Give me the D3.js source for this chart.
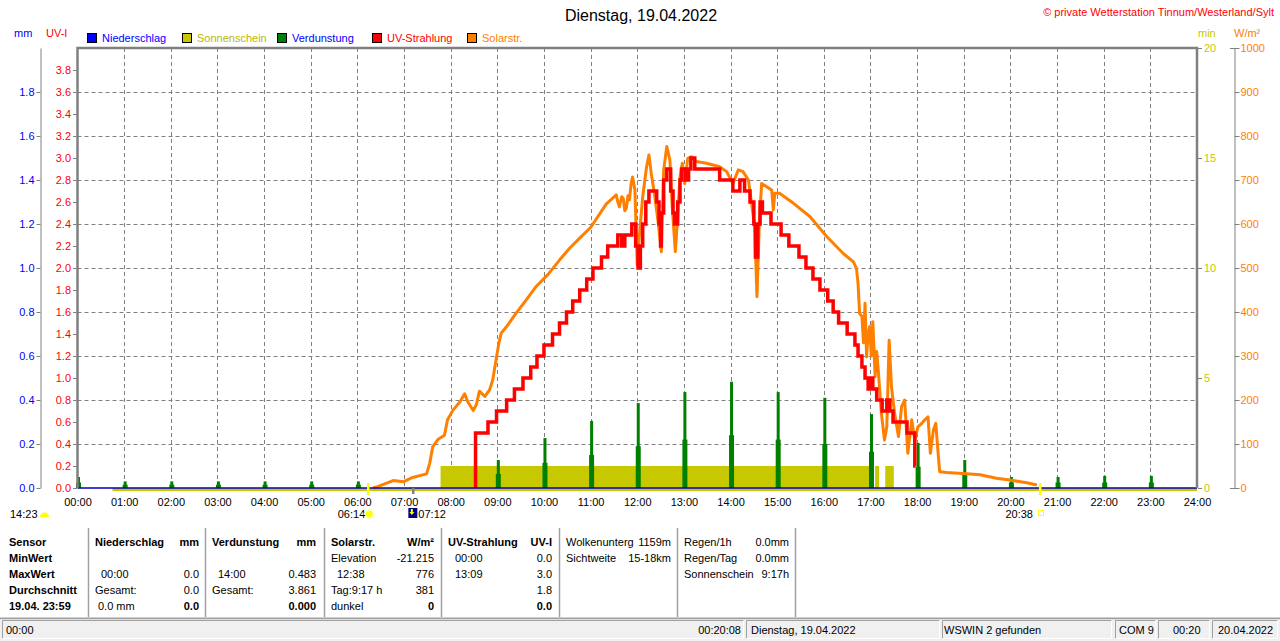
<!DOCTYPE html>
<html>
<head>
<meta charset="utf-8">
<script src="https://cdn.jsdelivr.net/npm/d3@7"></script>
<style>
  body { margin: 0; background: #fff; }
  svg text { font-family: "Liberation Sans", Arial, sans-serif; font-size: 11px; }
</style>
</head>
<body>
<svg id="chart" width="1280" height="641"></svg>
<script>
// ---- data ----
var hourLabels = ["00:00","01:00","02:00","03:00","04:00","05:00","06:00","07:00","08:00","09:00","10:00","11:00","12:00",
  "13:00","14:00","15:00","16:00","17:00","18:00","19:00","20:00","21:00","22:00","23:00","24:00"]

var mmTicks = [0.0,0.2,0.4,0.6,0.8,1.0,1.2,1.4,1.6,1.8]
var uvTicks = [0.0,0.2,0.4,0.6,0.8,1.0,1.2,1.4,1.6,1.8,2.0,2.2,2.4,2.6,2.8,3.0,3.2,3.4,3.6,3.8]
var minTicks = [0,5,10,15,20]
var wTicks = [0,100,200,300,400,500,600,700,800,900,1000]

// UV-Strahlung (UV-I), step values
var uvTimes = ["08:32","08:32","08:48","08:59","09:12","09:22","09:33","09:43","09:51","10:00","10:11","10:20","10:29","10:37",
  "10:46","10:55","11:03","11:14","11:22","11:35","11:40","11:44","11:53","11:58","12:01","12:04","12:07","12:11","12:15",
  "12:25","12:28","12:30","12:31","12:34","12:38","12:43","12:46","12:48","12:52","12:55","12:57","13:02","13:06","13:09",
  "13:14","13:46","14:03","14:12","14:18","14:25","14:30","14:32","14:35","14:38","14:41","14:52","15:05","15:15","15:28",
  "15:37","15:46","15:55","16:05","16:12","16:19","16:30","16:40","16:44","16:49","16:53","16:57","16:59","17:03","17:08",
  "17:15","17:21","17:25","17:29","17:47","17:57","17:58"]
var uvValues = [0.0,0.5,0.6,0.7,0.8,0.9,1.0,1.1,1.2,1.3,1.4,1.5,1.6,1.7,
  1.8,1.9,2.0,2.1,2.2,2.3,2.2,2.3,2.4,2.2,2.0,2.2,2.4,2.6,2.7,
  2.6,2.4,2.2,2.5,2.8,2.9,2.7,2.5,2.4,2.6,2.8,2.9,2.8,2.9,3.0,
  2.9,2.8,2.7,2.8,2.7,2.6,2.4,2.1,2.4,2.6,2.5,2.4,2.3,2.2,2.1,
  2.0,1.9,1.8,1.7,1.6,1.5,1.4,1.3,1.2,1.1,1.0,0.9,1.0,0.9,0.8,
  0.7,0.8,0.7,0.6,0.5,0.2,0.2]

// Solarstrahlung (W/m²)
var solarTimes = ["06:20","06:26","06:46","06:59","07:11","07:29","07:33","07:37","07:44","07:52","07:56","08:03","08:12",
  "08:18","08:22","08:29","08:33","08:37","08:44","08:50","08:54","08:59","09:02","09:05","09:12","09:24","09:37","09:50",
  "10:05","10:20","10:33","10:46","11:00","11:20","11:33","11:35","11:37","11:40","11:42","11:44","11:46","11:48","11:50",
  "11:52","11:54","11:57","12:00","12:03",
  "12:07","12:12","12:15","12:18","12:22","12:27","12:31","12:34","12:38","12:42","12:45","12:49","12:52","12:55","12:58",
  "13:01","13:05","13:10","13:16","13:29","13:46","13:55","14:03","14:10","14:16","14:23","14:27","14:31","14:34","14:37",
  "14:40","14:46","14:53","14:55","14:57","15:03","15:21","15:42","16:04","16:25","16:38","16:42","16:44","16:46","16:49",
  "16:51","16:53","16:55","16:57","16:59","17:01","17:03","17:06","17:08","17:10","17:14","17:18","17:21","17:24","17:27",
  "17:31","17:36","17:40","17:44",
  "17:48","17:53","17:57","18:01","18:06","18:10","18:14","18:17","18:21","18:24","18:27","18:29","18:38","18:59","19:21",
  "19:42","19:59","20:21","20:34"]
var solarValues = [0,3,17,14,24,32,56,94,111,120,155,177,196,
  214,196,176,189,220,208,223,245,298,329,352,367,397,427,458,
  485,518,545,568,592,645,666,650,639,662,658,630,636,664,655,
  690,707,677,507,579,
  662,730,757,715,670,602,537,723,776,745,639,537,617,707,738,
  692,749,753,742,738,730,719,692,723,719,700,647,594,435,602,
  692,685,677,632,670,670,647,617,571,533,514,499,465,397,390,
  330,420,298,350,367,300,378,253,310,268,170,109,139,336,230,
  170,117,185,200,
  79,155,109,139,147,155,162,79,132,147,79,37,35,33,30,
  22,18,12,7]

// Verdunstung (mm), hourly spikes: peak and lower shoulder
var evapTimes = ["00:00","01:00","02:00","03:00","04:00","05:00","06:00","09:00","10:00","11:00","12:00","13:00",
  "14:00","15:00","16:00","17:00","18:00","19:00","20:00","21:00","22:00","23:00"]
var evapPeak = [0.05,0.03,0.03,0.03,0.03,0.03,0.03,0.127,0.227,0.305,0.386,0.436,
  0.483,0.436,0.41,0.336,0.205,0.127,0.05,0.05,0.055,0.055]
var evapBase = [0.025,0.015,0.015,0.015,0.015,0.015,0.015,0.064,0.114,0.15,0.19,0.22,
  0.24,0.22,0.2,0.165,0.097,0.06,0.025,0.025,0.025,0.025]

// Sonnenschein (min per minute)
var sunStart = ["07:47","17:06","17:19"]
var sunEnd = ["17:03","17:11","17:30"]
var sunValue = [1,1,1]
var sunBaseStart = "00:45"

// Niederschlag (mm)
var rainTimes = ["00:00","24:00"]
var rainValues = [0,0]

// Sunrise / moon markers
var markerTimes = ["06:14","07:12","20:38"]
var markerColors = ["#ffff00","#808080","#ffff00"]

var legendNames = ["Niederschlag","Sonnenschein","Verdunstung","UV-Strahlung","Solarstr."]
var legendFill = ["#0000ff","#c8c800","#008000","#ff0000","#ff8000"]
var legendText = ["#0000ff","#b8b800","#0000ff","#ff0000","#ff8000"]

// ---- helpers ----
function toMin(s) {
  var p = s.split(":")
  return (+p[0]) * 60 + (+p[1])
}

var svg = d3.select("#chart")
var L = 77.5, R = 1197, T = 48, B = 488

var x = d3.scaleLinear().domain([0, 1440]).range([L, R])
var yUV = d3.scaleLinear().domain([0, 4]).range([B, T])
var yMM = d3.scaleLinear().domain([0, 2]).range([B, T])
var yMin = d3.scaleLinear().domain([0, 20]).range([B, T])
var yW = d3.scaleLinear().domain([0, 1000]).range([B, T])

// title & caption
svg.append("text").attr("x", 641).attr("y", 21).attr("text-anchor", "middle")
  .style("font-size", "16px").text("Dienstag, 19.04.2022")
svg.append("text").attr("x", 1274).attr("y", 16).attr("text-anchor", "end")
  .attr("fill", "#ff0000").text("© private Wetterstation Tinnum/Westerland/Sylt")

// axis units
svg.append("text").attr("x", 14).attr("y", 37).attr("fill", "#0000ff").text("mm")
svg.append("text").attr("x", 46).attr("y", 37).attr("fill", "#ff0000").text("UV-I")
svg.append("text").attr("x", 1198).attr("y", 37).attr("fill", "#c8c800").text("min")
svg.append("text").attr("x", 1234).attr("y", 37).attr("fill", "#ff8000").text("W/m²")

// legend
var leg = svg.append("g")
legendNames.forEach(function (n, i) {
  var lx = 87 + i * 95
  leg.append("rect").attr("x", lx + 0.5).attr("y", 33.5).attr("width", 9).attr("height", 9)
    .attr("fill", legendFill[i]).attr("stroke", "#000")
  leg.append("text").attr("x", lx + 15).attr("y", 42).attr("fill", legendText[i]).text(n)
})

// grid
var grid = svg.append("g").attr("stroke", "#808080").attr("stroke-dasharray", "4,3").attr("stroke-width", 1)
d3.range(1, 24).forEach(function (h) {
  grid.append("line").attr("x1", Math.round(x(h * 60)) + 0.5).attr("x2", Math.round(x(h * 60)) + 0.5)
    .attr("y1", T).attr("y2", B)
})
d3.range(1, 10).forEach(function (k) {
  var yy = Math.round(yUV(k * 0.4)) + 0.5
  grid.append("line").attr("x1", L).attr("x2", R).attr("y1", yy).attr("y2", yy)
})

// sunshine
var sunG = svg.append("g").attr("fill", "#c8c800")
sunStart.forEach(function (s, i) {
  var x0 = x(toMin(s)), x1 = x(toMin(sunEnd[i]))
  sunG.append("rect").attr("x", x0).attr("y", yMin(sunValue[i]))
    .attr("width", x1 - x0).attr("height", B - yMin(sunValue[i]))
})
svg.append("line").attr("x1", x(toMin(sunBaseStart))).attr("x2", R).attr("y1", B + 1.5).attr("y2", B + 1.5)
  .attr("stroke", "#c8c800").attr("stroke-width", 3)

// evaporation spikes
var evG = svg.append("g").attr("fill", "#008000")
evapTimes.forEach(function (t, i) {
  var cx = x(toMin(t)) + 1
  evG.append("rect").attr("x", cx - 2.5).attr("y", yMM(evapBase[i])).attr("width", 5).attr("height", B - yMM(evapBase[i]))
  evG.append("rect").attr("x", cx - 1.5).attr("y", yMM(evapPeak[i])).attr("width", 3).attr("height", B - yMM(evapPeak[i]))
})

// solar radiation
var solarLine = d3.line().x(function (d, i) { return x(toMin(solarTimes[i])) })
  .y(function (d) { return yW(d) })
svg.append("path").datum(solarValues).attr("d", solarLine)
  .attr("fill", "none").attr("stroke", "#ff8000").attr("stroke-width", 3).attr("stroke-linejoin", "round")

// UV
var uvLine = d3.line().curve(d3.curveStepAfter)
  .x(function (d, i) { return x(toMin(uvTimes[i])) })
  .y(function (d) { return yUV(d) })
svg.append("path").datum(uvValues).attr("d", uvLine)
  .attr("fill", "none").attr("stroke", "#ff0000").attr("stroke-width", 3.5)

// rain
var rainLine = d3.line().x(function (d, i) { return x(toMin(rainTimes[i])) }).y(function (d) { return yMM(d) })
svg.append("path").datum(rainValues).attr("d", rainLine).attr("stroke", "#0000c0").attr("stroke-width", 1.5)

// plot frame
svg.append("path").attr("d", "M" + L + "," + B + "V" + T + "H" + R + "V" + B)
  .attr("fill", "none").attr("stroke", "#808080").attr("stroke-width", 2.5)

// axes
function styleAxis(g, color) {
  g.attr("font-family", null).attr("font-size", null)
  g.selectAll(".tick line").attr("stroke", "#808080")
  g.selectAll(".domain").attr("stroke", "#808080")
  g.selectAll("text").attr("fill", color)
}
var mmAxis = svg.append("g").attr("transform", "translate(40.5,0)")
  .call(d3.axisLeft(yMM).tickValues(mmTicks).tickFormat(d3.format(".1f")).tickSize(4).tickSizeOuter(0).tickPadding(2))
styleAxis(mmAxis, "#0000ff")

var uvAxis = svg.append("g").attr("transform", "translate(77,0)")
  .call(d3.axisLeft(yUV).tickValues(uvTicks).tickFormat(d3.format(".1f")).tickSize(4).tickPadding(2))
styleAxis(uvAxis, "#ff0000")
uvAxis.select(".domain").remove()

var minAxis = svg.append("g").attr("transform", "translate(1198,0)")
  .call(d3.axisRight(yMin).tickValues(minTicks).tickFormat(d3.format("d")).tickSize(4).tickPadding(2))
styleAxis(minAxis, "#c8c800")
minAxis.select(".domain").remove()

var wAxis = svg.append("g").attr("transform", "translate(1234.5,0)")
  .call(d3.axisRight(yW).tickValues(wTicks).tickFormat(d3.format("d")).tickSize(5).tickSizeOuter(0).tickPadding(1))
styleAxis(wAxis, "#ff8000")
;[T, B].forEach(function (yy) {
  svg.append("line").attr("x1", 1230).attr("x2", 1239).attr("y1", yy + 0.5).attr("y2", yy + 0.5).attr("stroke", "#808080")
})

var xAxis = svg.append("g").attr("transform", "translate(0," + B + ")")
  .call(d3.axisBottom(x).tickValues(d3.range(0, 25).map(function (h) { return h * 60 }))
    .tickFormat(function (d, i) { return hourLabels[i] }).tickSize(0).tickPadding(10))
styleAxis(xAxis, "#000")
xAxis.select(".domain").remove()

// markers for sunrise / moon / sunset
markerTimes.forEach(function (t, i) {
  var mx = Math.round(x(toMin(t)))
  svg.append("rect").attr("x", mx - 1).attr("y", i == 1 ? 488 : 483).attr("width", 2.5).attr("height", i == 1 ? 6 : 12)
    .attr("fill", markerColors[i])
})

// bottom time notes
svg.append("text").attr("x", 10).attr("y", 518).text("14:23")
svg.append("path").attr("d", "M40,517 A4.5,4.5 0 0 1 49,517 Z").attr("fill", "#ffff00")

var xSun = x(toMin(markerTimes[0]))
svg.append("text").attr("x", xSun - 3).attr("y", 518).attr("text-anchor", "end").text(markerTimes[0])
var sunIcon = svg.append("g").attr("transform", "translate(" + (xSun + 1) + ",514)")
sunIcon.append("circle").attr("r", 3.5).attr("fill", "#ffff00")
d3.range(8).forEach(function (k) {
  var a = k * Math.PI / 4
  sunIcon.append("line").attr("x1", Math.cos(a) * 4).attr("y1", Math.sin(a) * 4)
    .attr("x2", Math.cos(a) * 6).attr("y2", Math.sin(a) * 6).attr("stroke", "#ffff80")
})

var xMoon = x(toMin(markerTimes[1]))
svg.append("rect").attr("x", xMoon - 5).attr("y", 508).attr("width", 9).attr("height", 10).attr("fill", "#000080")
svg.append("path").attr("d", "M" + (xMoon - 2.5) + ",509 v3 h-1.5 l2.5,3 l2.5,-3 h-1.5 v-3 z").attr("fill", "#ffff00")
svg.append("text").attr("x", xMoon + 5).attr("y", 518).text(markerTimes[1])

var xSet = x(toMin(markerTimes[2]))
svg.append("text").attr("x", xSet - 7).attr("y", 518).attr("text-anchor", "end").text(markerTimes[2])
svg.append("rect").attr("x", xSet - 1.5).attr("y", 510.5).attr("width", 5).attr("height", 5)
  .attr("fill", "none").attr("stroke", "#ffff00")

// ---- statistics table ----
var rowY = [546, 562, 578, 594, 610]
var sepX = [88.5, 205.5, 324.5, 441.5, 559.5, 677.5, 795.5]
sepX.forEach(function (sx) {
  svg.append("line").attr("x1", sx).attr("x2", sx).attr("y1", 528).attr("y2", 617).attr("stroke", "#a0a0a0").attr("stroke-width", 1.5)
})
// each cell: [x, row, text, anchor, bold]
var cells = [
  [9,0,"Sensor","start",1],[9,1,"MinWert","start",1],[9,2,"MaxWert","start",1],[9,3,"Durchschnitt","start",1],[9,4,"19.04. 23:59","start",1],
  [95,0,"Niederschlag","start",1],[199,0,"mm","end",1],[101,2,"00:00","start",0],[199,2,"0.0","end",0],
  [95,3,"Gesamt:","start",0],[199,3,"0.0","end",0],[98,4,"0.0 mm","start",0],[199,4,"0.0","end",1],
  [212,0,"Verdunstung","start",1],[316,0,"mm","end",1],[218,2,"14:00","start",0],[316,2,"0.483","end",0],
  [212,3,"Gesamt:","start",0],[316,3,"3.861","end",0],[316,4,"0.000","end",1],
  [331,0,"Solarstr.","start",1],[434,0,"W/m²","end",1],[331,1,"Elevation","start",0],[434,1,"-21.215","end",0],
  [337,2,"12:38","start",0],[434,2,"776","end",0],[331,3,"Tag:9:17 h","start",0],[434,3,"381","end",0],
  [331,4,"dunkel","start",0],[434,4,"0","end",1],
  [448,0,"UV-Strahlung","start",1],[552,0,"UV-I","end",1],[455,1,"00:00","start",0],[552,1,"0.0","end",0],
  [455,2,"13:09","start",0],[552,2,"3.0","end",0],[552,3,"1.8","end",0],[552,4,"0.0","end",1],
  [566,0,"Wolkenunterg","start",0],[671,0,"1159m","end",0],[566,1,"Sichtweite","start",0],[671,1,"15-18km","end",0],
  [684,0,"Regen/1h","start",0],[789,0,"0.0mm","end",0],[684,1,"Regen/Tag","start",0],[789,1,"0.0mm","end",0],
  [684,2,"Sonnenschein","start",0],[789,2,"9:17h","end",0]
]
cells.forEach(function (c) {
  svg.append("text").attr("x", c[0]).attr("y", rowY[c[1]]).attr("text-anchor", c[3])
    .style("font-weight", c[4] ? "bold" : "normal").text(c[2])
})

// ---- status bar ----
svg.append("line").attr("x1", 0).attr("x2", 1280).attr("y1", 618.5).attr("y2", 618.5).attr("stroke", "#a0a0a0").attr("stroke-width", 2)
svg.append("rect").attr("x", 0).attr("y", 619.5).attr("width", 1280).attr("height", 21.5).attr("fill", "#f0f0f0")
var panels = [[2, 744], [746, 940], [942, 1112], [1115, 1156], [1158, 1210], [1212, 1278]]
panels.forEach(function (p) {
  svg.append("path").attr("d", "M" + (p[0] + 0.5) + ",638.5V620.5H" + (p[1] - 0.5)).attr("fill", "none").attr("stroke", "#a0a0a0")
  svg.append("path").attr("d", "M" + (p[0] + 0.5) + ",638.5H" + (p[1] - 0.5) + "V620.5").attr("fill", "none").attr("stroke", "#fff")
})
var statusTexts = [[6, "00:00", "start"], [741, "00:20:08", "end"], [751, "Dienstag, 19.04.2022", "start"],
  [944, "WSWIN 2 gefunden", "start"], [1119, "COM 9", "start"], [1173, "00:20", "start"], [1218, "20.04.2022", "start"]]
statusTexts.forEach(function (s) {
  svg.append("text").attr("x", s[0]).attr("y", 634).attr("text-anchor", s[2]).text(s[1])
})
</script>
</body>
</html>
